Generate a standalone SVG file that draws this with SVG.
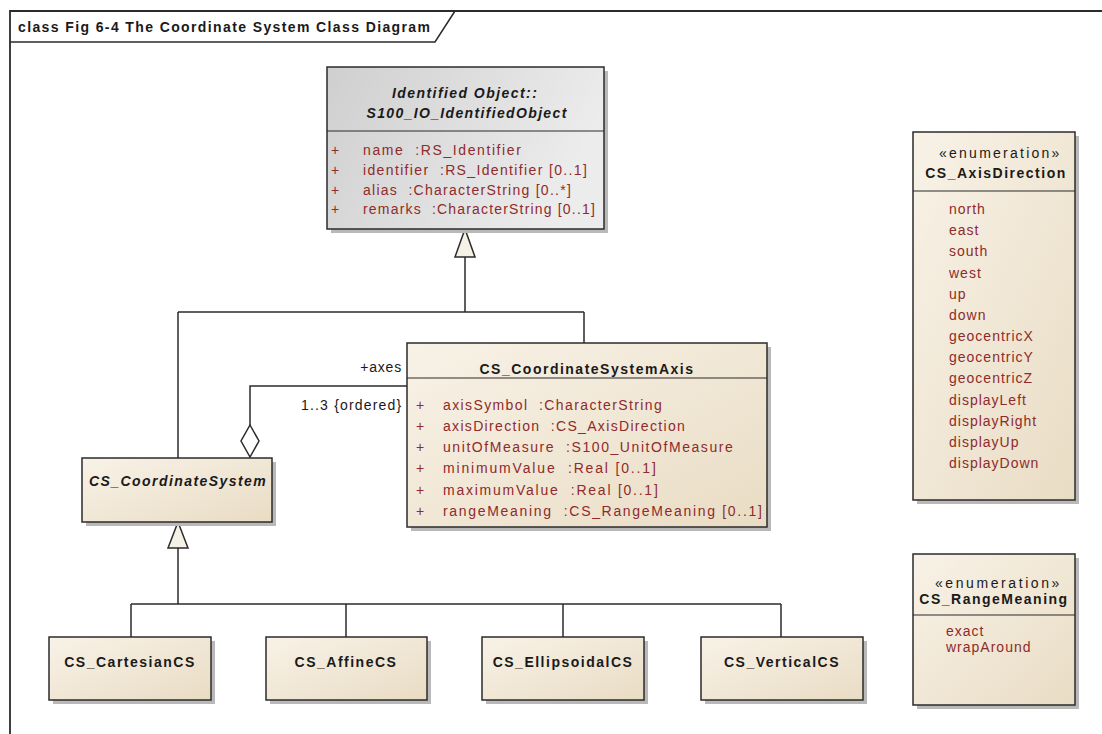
<svg xmlns="http://www.w3.org/2000/svg" width="1102" height="734" viewBox="0 0 1102 734" xml:space="preserve">
<defs>
<linearGradient id="tan" x1="0" y1="0" x2="1" y2="1">
<stop offset="0" stop-color="#f8f2e7"/>
<stop offset="1" stop-color="#e9dcc4"/>
</linearGradient>
<linearGradient id="gray" x1="0" y1="0" x2="1" y2="0.3">
<stop offset="0" stop-color="#cfcfcf"/>
<stop offset="1" stop-color="#ececec"/>
</linearGradient>
</defs>
<style>
text{font-family:"Liberation Sans",Arial,sans-serif;font-size:14px;white-space:pre;}
.box{stroke:#2b2b2b;stroke-width:1.5;}
.tan{fill:url(#tan);}
.gry{fill:url(#gray);}
.sh{fill:#b9b9b9;}
.sep{stroke:#2b2b2b;stroke-width:1.2;}
.t{font-weight:bold;text-anchor:middle;fill:#1a1a1a;letter-spacing:1.5px;}
.ti{font-weight:bold;font-style:italic;text-anchor:middle;fill:#1a1a1a;letter-spacing:1.2px;}
.st{text-anchor:middle;fill:#1a1a1a;letter-spacing:1.6px;}
.a{fill:#8f2b2b;letter-spacing:1.2px;}
.e{fill:#8f2b2b;letter-spacing:1px;}
.lbl{fill:#1a1a1a;text-anchor:end;letter-spacing:0.8px;}
.ln{fill:none;stroke:#2b2b2b;stroke-width:1.5;}
.tri{fill:#f6f1e6;stroke:#2b2b2b;stroke-width:1.5;}
.dia{fill:#ffffff;stroke:#2b2b2b;stroke-width:1.5;}
</style>
<rect x="0" y="0" width="1102" height="734" fill="#ffffff"/>
<g id="frame">
<path d="M10,734 V11 H1102" fill="none" stroke="#2b2b2b" stroke-width="1.8"/>
<path d="M10,42 H435 L455,11" fill="none" stroke="#2b2b2b" stroke-width="1.5"/>
<text x="18" y="32" font-weight="bold" fill="#1a1a1a" font-size="13.5" textLength="412">class Fig 6-4 The Coordinate System Class Diagram</text>
</g>
<g id="connectors">
<path class="ln" d="M465,257 V312 M178,312 H584 M178,312 V458 M584,312 V343"/>
<polygon class="tri" points="465,229 455,257 475,257"/>
<path class="ln" d="M407,386 H250 V425"/>
<polygon class="dia" points="250,425 259,441 250,457 241,441"/>
<text class="lbl" x="402" y="372">+axes</text>
<text class="lbl" x="402" y="410" textLength="101">1..3 {ordered}</text>
<path class="ln" d="M178,548 V604 M131,604 H781 M131,604 V637 M346,604 V637 M563,604 V637 M781,604 V637"/>
<polygon class="tri" points="178,522 168,548 188,548"/>
</g>
<g id="IdentifiedObject">
<rect class="sh" x="331" y="71" width="277" height="162"/>
<rect class="box gry" x="327" y="67" width="277" height="162"/>
<line class="sep" x1="327" y1="131" x2="604" y2="131"/>
<text class="ti" x="465" y="98" textLength="146">Identified Object::</text>
<text class="ti" x="467" y="118" textLength="201">S100_IO_IdentifiedObject</text>
<text class="a" x="331" y="155">+</text><text class="a" x="363" y="155" textLength="159">name  :RS_Identifier</text>
<text class="a" x="331" y="175">+</text><text class="a" x="363" y="175" textLength="225">identifier  :RS_Identifier [0..1]</text>
<text class="a" x="331" y="195">+</text><text class="a" x="363" y="195" textLength="209">alias  :CharacterString [0..*]</text>
<text class="a" x="331" y="214">+</text><text class="a" x="363" y="214" textLength="233">remarks  :CharacterString [0..1]</text>
</g>
<g id="CS_CoordinateSystemAxis">
<rect class="sh" x="411" y="347" width="360" height="184"/>
<rect class="box tan" x="407" y="343" width="360" height="184"/>
<line class="sep" x1="407" y1="378" x2="767" y2="378"/>
<text class="t" x="587" y="374">CS_CoordinateSystemAxis</text>
<text class="a" x="416" y="410">+</text><text class="a" x="443" y="410" textLength="220">axisSymbol  :CharacterString</text>
<text class="a" x="416" y="431">+</text><text class="a" x="443" y="431" textLength="243">axisDirection  :CS_AxisDirection</text>
<text class="a" x="416" y="452">+</text><text class="a" x="443" y="452" textLength="291">unitOfMeasure  :S100_UnitOfMeasure</text>
<text class="a" x="416" y="473">+</text><text class="a" x="443" y="473" textLength="214">minimumValue  :Real [0..1]</text>
<text class="a" x="416" y="495">+</text><text class="a" x="443" y="495" textLength="216">maximumValue  :Real [0..1]</text>
<text class="a" x="416" y="516">+</text><text class="a" x="443" y="516" textLength="320">rangeMeaning  :CS_RangeMeaning [0..1]</text>
</g>
<g id="CS_CoordinateSystem">
<rect class="sh" x="86" y="462" width="190" height="64"/>
<rect class="box tan" x="82" y="458" width="190" height="64"/>
<text class="ti" x="178" y="486" textLength="178">CS_CoordinateSystem</text>
</g>
<g id="CS_CartesianCS">
<rect class="sh" x="53" y="641" width="162" height="63"/>
<rect class="box tan" x="49" y="637" width="162" height="63"/>
<text class="t" x="130" y="667">CS_CartesianCS</text>
</g>
<g id="CS_AffineCS">
<rect class="sh" x="270" y="641" width="161" height="63"/>
<rect class="box tan" x="266" y="637" width="161" height="63"/>
<text class="t" x="346" y="667">CS_AffineCS</text>
</g>
<g id="CS_EllipsoidalCS">
<rect class="sh" x="486" y="641" width="162" height="63"/>
<rect class="box tan" x="482" y="637" width="162" height="63"/>
<text class="t" x="563" y="667">CS_EllipsoidalCS</text>
</g>
<g id="CS_VerticalCS">
<rect class="sh" x="705" y="641" width="162" height="63"/>
<rect class="box tan" x="701" y="637" width="162" height="63"/>
<text class="t" x="782" y="667">CS_VerticalCS</text>
</g>
<g id="CS_AxisDirection">
<rect class="sh" x="917" y="136" width="162" height="368"/>
<rect class="box tan" x="913" y="132" width="162" height="368"/>
<line class="sep" x1="913" y1="191" x2="1075" y2="191"/>
<text class="st" x="1000" y="158" textLength="122">«enumeration»</text>
<text class="t" x="996" y="178">CS_AxisDirection</text>
<text class="e" x="949" y="214">north</text>
<text class="e" x="949" y="235">east</text>
<text class="e" x="949" y="256">south</text>
<text class="e" x="949" y="278">west</text>
<text class="e" x="949" y="299">up</text>
<text class="e" x="949" y="320">down</text>
<text class="e" x="949" y="341">geocentricX</text>
<text class="e" x="949" y="362">geocentricY</text>
<text class="e" x="949" y="383">geocentricZ</text>
<text class="e" x="949" y="405">displayLeft</text>
<text class="e" x="949" y="426">displayRight</text>
<text class="e" x="949" y="447">displayUp</text>
<text class="e" x="949" y="468">displayDown</text>
</g>
<g id="CS_RangeMeaning">
<rect class="sh" x="917" y="558" width="162" height="151"/>
<rect class="box tan" x="913" y="554" width="162" height="151"/>
<line class="sep" x1="913" y1="615" x2="1075" y2="615"/>
<text class="st" x="998" y="588" textLength="126">«enumeration»</text>
<text class="t" x="994" y="604">CS_RangeMeaning</text>
<text class="e" x="946" y="636">exact</text>
<text class="e" x="946" y="652">wrapAround</text>
</g>
</svg>
